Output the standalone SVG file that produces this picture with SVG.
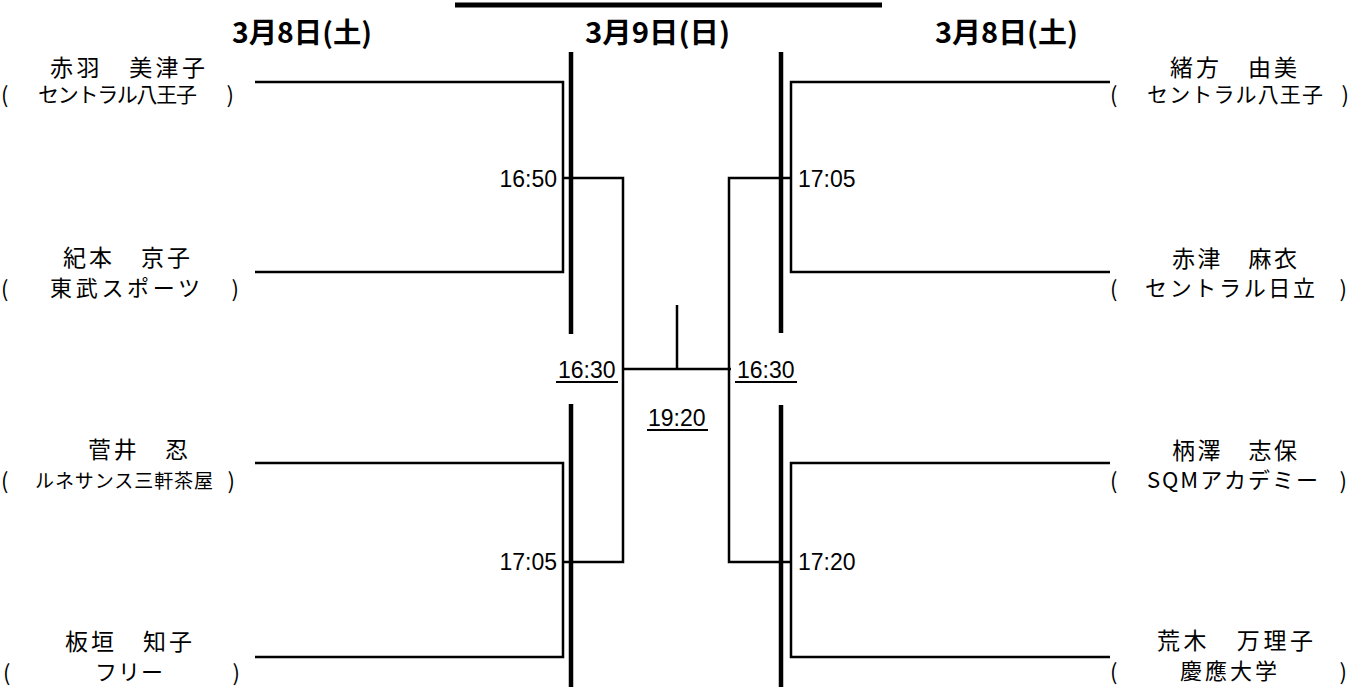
<svg xmlns="http://www.w3.org/2000/svg" width="1362" height="687" viewBox="0 0 1362 687">
<style>
.bg{fill:#fff}
.thin{stroke:#000;stroke-width:2.5;fill:none}
.thick{stroke:#000;stroke-width:4.5;fill:none}
.ul{stroke:#000;stroke-width:2}
.name{font-family:"Noto Sans CJK JP","Noto Sans",sans-serif;font-size:23px;fill:#000}
.aff{font-family:"Noto Sans CJK JP","Noto Sans",sans-serif;font-size:21px;fill:#000}
.par{font-family:"Noto Sans CJK JP","Noto Sans",sans-serif;font-size:22px;fill:#000}
.date{font-family:"Noto Sans CJK JP","Noto Sans",sans-serif;font-size:28px;font-weight:700;fill:#000}
.time{font-family:"Liberation Sans",Arial,sans-serif;font-size:23px;fill:#000}
</style>
<rect class="bg" x="0" y="0" width="1362" height="687"/>
<line x1="455" y1="5" x2="882" y2="5" stroke="#000" stroke-width="5"/>
<g id="dates">
<text class="date" x="232" y="43" textLength="140" lengthAdjust="spacingAndGlyphs">3月8日(土)</text>
<text class="date" x="585" y="43" textLength="145" lengthAdjust="spacingAndGlyphs">3月9日(日)</text>
<text class="date" x="935" y="43" textLength="143" lengthAdjust="spacingAndGlyphs">3月8日(土)</text>
</g>
<g id="connectors">
<line class="thick" x1="571" y1="52" x2="571" y2="334"/>
<line class="thick" x1="571" y1="404" x2="571" y2="687"/>
<line class="thick" x1="781" y1="52" x2="781" y2="333"/>
<line class="thick" x1="781" y1="405" x2="781" y2="687"/>
<polyline class="thin" points="255,82 563,82 563,272 255,272"/>
<polyline class="thin" points="255,463 563,463 563,657 255,657"/>
<polyline class="thin" points="1110,82 791,82 791,272 1110,272"/>
<polyline class="thin" points="1110,463 791,463 791,657 1110,657"/>
<polyline class="thin" points="563,178 623,178 623,562 563,562"/>
<polyline class="thin" points="791,178 729,178 729,562 791,562"/>
<line class="thin" x1="623" y1="369" x2="731" y2="369"/>
<line class="thin" x1="677" y1="305" x2="677" y2="369"/>
</g>
<g id="times">
<text class="time" x="557" y="187" text-anchor="end">16:50</text>
<text class="time" x="798" y="187">17:05</text>
<text class="time" x="557" y="570" text-anchor="end">17:05</text>
<text class="time" x="798" y="570">17:20</text>
<text class="time" x="558" y="378">16:30</text>
<line class="ul" x1="556" y1="382" x2="618" y2="382"/>
<text class="time" x="737" y="378">16:30</text>
<line class="ul" x1="735" y1="382" x2="797" y2="382"/>
<text class="time" x="648" y="426">19:20</text>
<line class="ul" x1="647" y1="430" x2="708" y2="430"/>
</g>
<g id="p1">
<text class="name" x="50" y="76" textLength="155" lengthAdjust="spacing">赤羽　美津子</text>
<text class="par" x="1" y="103">(</text>
<text class="aff" x="38" y="102" textLength="159" lengthAdjust="spacing">セントラル八王子</text>
<text class="par" x="234" y="103" text-anchor="end">)</text>
</g>
<g id="p2">
<text class="name" x="63" y="266" textLength="127" lengthAdjust="spacing">紀本　京子</text>
<text class="par" x="1" y="297">(</text>
<text class="aff" x="50" y="296" textLength="150" lengthAdjust="spacing" style="font-size:22px">東武スポーツ</text>
<text class="par" x="239" y="297" text-anchor="end">)</text>
</g>
<g id="p3">
<text class="name" x="88" y="458" textLength="100" lengthAdjust="spacing">菅井　忍</text>
<text class="par" x="1" y="489">(</text>
<text class="aff" x="35" y="488" textLength="178" lengthAdjust="spacing" style="font-size:19px">ルネサンス三軒茶屋</text>
<text class="par" x="235" y="489" text-anchor="end">)</text>
</g>
<g id="p4">
<text class="name" x="65" y="650" textLength="127" lengthAdjust="spacing">板垣　知子</text>
<text class="par" x="3" y="681">(</text>
<text class="aff" x="95" y="680" textLength="68" lengthAdjust="spacing" style="font-size:22px">フリー</text>
<text class="par" x="240" y="681" text-anchor="end">)</text>
</g>
<g id="p5">
<text class="name" x="1170" y="76" textLength="127" lengthAdjust="spacing">緒方　由美</text>
<text class="par" x="1110" y="103">(</text>
<text class="aff" x="1147" y="102" textLength="176" lengthAdjust="spacing">セントラル八王子</text>
<text class="par" x="1349" y="103" text-anchor="end">)</text>
</g>
<g id="p6">
<text class="name" x="1172" y="267" textLength="125" lengthAdjust="spacing">赤津　麻衣</text>
<text class="par" x="1110" y="297">(</text>
<text class="aff" x="1145" y="296" textLength="170" lengthAdjust="spacing" style="font-size:22px">セントラル日立</text>
<text class="par" x="1347" y="297" text-anchor="end">)</text>
</g>
<g id="p7">
<text class="name" x="1172" y="459" textLength="125" lengthAdjust="spacing">柄澤　志保</text>
<text class="par" x="1110" y="489">(</text>
<text class="aff" x="1147" y="488" textLength="171" lengthAdjust="spacing" style="font-size:22px">SQMアカデミー</text>
<text class="par" x="1347" y="489" text-anchor="end">)</text>
</g>
<g id="p8">
<text class="name" x="1157" y="649" textLength="156" lengthAdjust="spacing">荒木　万理子</text>
<text class="par" x="1110" y="680">(</text>
<text class="aff" x="1180" y="679" textLength="97" lengthAdjust="spacing" style="font-size:22px">慶應大学</text>
<text class="par" x="1347" y="680" text-anchor="end">)</text>
</g>
</svg>
